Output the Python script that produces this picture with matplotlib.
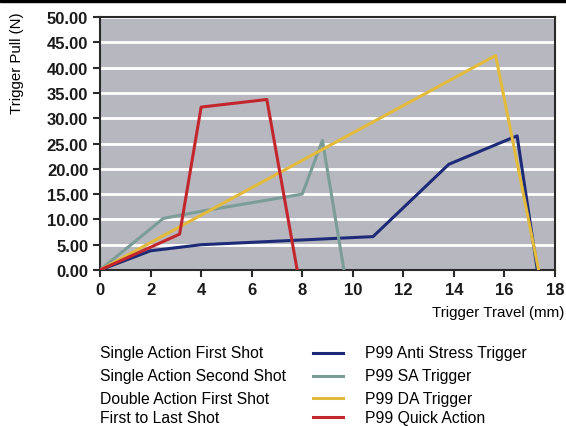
import matplotlib.pyplot as plt
from matplotlib.lines import Line2D
from matplotlib.patches import Rectangle

plt.rcParams["font.family"] = ["Liberation Sans", "DejaVu Sans"]

# values
anti_x = [0, 2.0, 4.0, 10.8, 13.8, 16.2, 16.5, 17.3]
anti_y = [0, 3.8, 5.0, 6.6, 20.9, 25.9, 26.5, 0]
sa_x = [0, 2.5, 4.0, 8.0, 8.8, 9.65]
sa_y = [0, 10.2, 11.6, 15.0, 25.6, 0]
da_x = [0, 15.65, 17.35]
da_y = [0, 42.4, 0]
qa_x = [0, 3.15, 4.0, 6.6, 7.8]
qa_y = [0, 7.1, 32.2, 33.7, 0]

left_labels = ["Single Action First Shot", "Single Action Second Shot",
               "Double Action First Shot", "First to Last Shot"]
right_labels = ["P99 Anti Stress Trigger", "P99 SA Trigger",
                "P99 DA Trigger", "P99 Quick Action"]
colors = ["#1d2a78", "#7b9d97", "#e2ba3c", "#c3262c"]

fig = plt.figure(figsize=(5.66, 4.27), dpi=100)
ax = fig.add_axes([0.1767, 0.3653, 0.8039, 0.5925])
ax.set_facecolor("#b7b7bf")

series = [(anti_x, anti_y), (sa_x, sa_y), (da_x, da_y), (qa_x, qa_y)]
for (xs, ys), c in zip(series, colors):
    ax.plot(xs, ys, color=c, linewidth=2.2, zorder=3)

ax.set_xlim(0, 18)
ax.set_ylim(0, 50)
ax.set_xticks(range(0, 19, 2))
ax.set_yticks(range(0, 51, 5))
ax.set_yticklabels([f"{v:.2f}" for v in range(0, 51, 5)])
ax.yaxis.grid(True, color="white", linewidth=2)
ax.set_axisbelow(True)
for s in ax.spines.values():
    s.set_color("#2a2a2a")
    s.set_linewidth(1.5)
ax.tick_params(axis="both", labelsize=12, color="#2a2a2a", width=1.5, length=5)
for lbl in ax.get_xticklabels() + ax.get_yticklabels():
    lbl.set_fontweight("bold")
    lbl.set_color("#1a1a1a")

ax.set_ylabel("Trigger Pull (N)", fontsize=10.8)
ax.yaxis.set_label_coords(-0.167, 0.82)
fig.text(0.998, 0.267, "Trigger Travel (mm)", ha="right", va="center", fontsize=10.9)

# legend drawn by hand below the plot
row_y = [0.172, 0.118, 0.065, 0.020]
for ly, c, l1, l2 in zip(row_y, colors, left_labels, right_labels):
    fig.text(0.177, ly, l1, ha="left", va="center", fontsize=11.3)
    fig.add_artist(Line2D([0.553, 0.606], [ly, ly], color=c, linewidth=2.2,
                          transform=fig.transFigure))
    fig.text(0.645, ly, l2, ha="left", va="center", fontsize=11.3)

fig.add_artist(Rectangle((0, 0.994), 1, 0.006, transform=fig.transFigure,
                         color="black"))

fig.savefig("out.png", dpi=100)
